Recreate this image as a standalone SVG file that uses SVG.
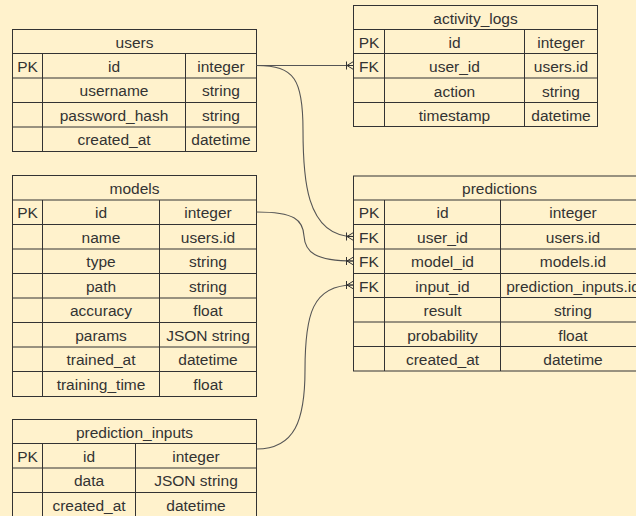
<svg xmlns="http://www.w3.org/2000/svg" width="636" height="516" viewBox="0 0 636 516">
  <style>
    .box { fill: #fff2cc; stroke: #333; stroke-width: 1; }
    .ln { stroke: #333; stroke-width: 1; fill: none; }
    .t { font-family: "Liberation Sans", Arial, sans-serif; font-size: 15.5px; fill: #333; text-anchor: middle; }
    .edge { stroke: #555; stroke-width: 1.1; fill: none; marker-end: url(#oneToMany); }
  </style>
  <defs>
    <!-- crow's foot with a bar: one-to-many end -->
    <marker id="oneToMany" viewBox="0 0 10 10" refX="9" refY="5" markerWidth="10" markerHeight="10" markerUnits="userSpaceOnUse" orient="auto">
      <path d="M2,1 L2,9 M2.5,5 L9,1 M2.5,5 L9,5 M2.5,5 L9,9" stroke="#333" stroke-width="1" fill="none"/>
    </marker>
  </defs>

  <rect x="0" y="0" width="636" height="516" fill="#fff2cc"/>

  <!-- users -->
  <g id="users">
    <rect class="box" x="12.5" y="29.5" width="244" height="122"/>
    <path class="ln" d="M12.5,53.5H256.5 M12.5,78H256.5 M12.5,102.5H256.5 M12.5,127H256.5 M42.5,53.5V151.5 M185.5,53.5V151.5"/>
    <text class="t" x="134.5" y="48">users</text>
    <text class="t" x="27.5" y="71.9">PK</text><text class="t" x="114" y="71.9">id</text><text class="t" x="221" y="71.9">integer</text>
    <text class="t" x="114" y="96.4">username</text><text class="t" x="221" y="96.4">string</text>
    <text class="t" x="114" y="120.9">password_hash</text><text class="t" x="221" y="120.9">string</text>
    <text class="t" x="114" y="145.4">created_at</text><text class="t" x="221" y="145.4">datetime</text>
  </g>

  <!-- activity_logs -->
  <g id="activity_logs">
    <rect class="box" x="353.5" y="5.5" width="244" height="121"/>
    <path class="ln" d="M353.5,29.5H597.5 M353.5,53.5H597.5 M353.5,78H597.5 M353.5,102.5H597.5 M384.5,29.5V126.5 M524.5,29.5V126.5"/>
    <text class="t" x="475.5" y="23.9">activity_logs</text>
    <text class="t" x="369" y="47.9">PK</text><text class="t" x="454.5" y="47.9">id</text><text class="t" x="561" y="47.9">integer</text>
    <text class="t" x="369" y="72.1">FK</text><text class="t" x="454.5" y="72.1">user_id</text><text class="t" x="561" y="72.1">users.id</text>
    <text class="t" x="454.5" y="96.6">action</text><text class="t" x="561" y="96.6">string</text>
    <text class="t" x="454.5" y="120.9">timestamp</text><text class="t" x="561" y="120.9">datetime</text>
  </g>

  <!-- models -->
  <g id="models">
    <rect class="box" x="12.5" y="175.5" width="244" height="221"/>
    <path class="ln" d="M12.5,200H256.5 M12.5,224.5H256.5 M12.5,249H256.5 M12.5,273.5H256.5 M12.5,298H256.5 M12.5,322.5H256.5 M12.5,347H256.5 M12.5,371.5H256.5 M42.5,200V396.5 M159.5,200V396.5"/>
    <text class="t" x="134.5" y="194">models</text>
    <text class="t" x="27.5" y="218.4">PK</text><text class="t" x="101" y="218.4">id</text><text class="t" x="208" y="218.4">integer</text>
    <text class="t" x="101" y="242.9">name</text><text class="t" x="208" y="242.9">users.id</text>
    <text class="t" x="101" y="267.4">type</text><text class="t" x="208" y="267.4">string</text>
    <text class="t" x="101" y="291.9">path</text><text class="t" x="208" y="291.9">string</text>
    <text class="t" x="101" y="316.4">accuracy</text><text class="t" x="208" y="316.4">float</text>
    <text class="t" x="101" y="340.9">params</text><text class="t" x="208" y="340.9">JSON string</text>
    <text class="t" x="101" y="365.4">trained_at</text><text class="t" x="208" y="365.4">datetime</text>
    <text class="t" x="101" y="390.1">training_time</text><text class="t" x="208" y="390.1">float</text>
  </g>

  <!-- predictions -->
  <g id="predictions">
    <rect class="box" x="353.5" y="176" width="292" height="195"/>
    <path class="ln" d="M353.5,200H645.5 M353.5,224.5H645.5 M353.5,249H645.5 M353.5,273.5H645.5 M353.5,297.5H645.5 M353.5,322H645.5 M353.5,346.5H645.5 M384.5,200V371 M500.5,200V371"/>
    <text class="t" x="499.5" y="194.2">predictions</text>
    <text class="t" x="369" y="218.4">PK</text><text class="t" x="442.5" y="218.4">id</text><text class="t" x="573" y="218.4">integer</text>
    <text class="t" x="369" y="242.9">FK</text><text class="t" x="442.5" y="242.9">user_id</text><text class="t" x="573" y="242.9">users.id</text>
    <text class="t" x="369" y="267.4">FK</text><text class="t" x="442.5" y="267.4">model_id</text><text class="t" x="573" y="267.4">models.id</text>
    <text class="t" x="369" y="291.7">FK</text><text class="t" x="442.5" y="291.7">input_id</text><text class="t" x="573" y="291.7">prediction_inputs.id</text>
    <text class="t" x="442.5" y="316.1">result</text><text class="t" x="573" y="316.1">string</text>
    <text class="t" x="442.5" y="340.5">probability</text><text class="t" x="573" y="340.5">float</text>
    <text class="t" x="442.5" y="364.9">created_at</text><text class="t" x="573" y="364.9">datetime</text>
  </g>

  <!-- prediction_inputs -->
  <g id="prediction_inputs">
    <rect class="box" x="12.5" y="419.5" width="244" height="98"/>
    <path class="ln" d="M12.5,443.5H256.5 M12.5,468H256.5 M12.5,492.5H256.5 M42.5,443.5V517.5 M135.5,443.5V517.5"/>
    <text class="t" x="134.5" y="437.8">prediction_inputs</text>
    <text class="t" x="27.5" y="462">PK</text><text class="t" x="89" y="462">id</text><text class="t" x="196" y="462">integer</text>
    <text class="t" x="89" y="486.4">data</text><text class="t" x="196" y="486.4">JSON string</text>
    <text class="t" x="89" y="510.9">created_at</text><text class="t" x="196" y="510.9">datetime</text>
  </g>

  <!-- relationships -->
  <g id="connectors">
    <path class="edge" d="M256.5,65.5 L353.5,65.5"/>
    <path class="edge" d="M256.5,65.5 C295,65.5 303,80 303,130 C303,175 305,236.5 353.5,236.5"/>
    <path class="edge" d="M256.5,212 C295,212 303,220 304,236 C305,252 315,261 353.5,261"/>
    <path class="edge" d="M256.5,449 C295,449 305,420 305,370 C305,315 312,285 353.5,285"/>
  </g>
</svg>
